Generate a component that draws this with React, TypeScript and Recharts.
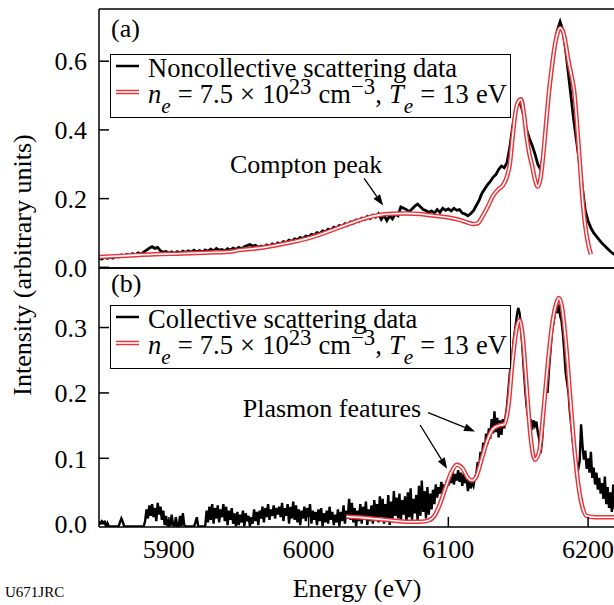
import React from 'react';
import { LineChart, Line, XAxis, YAxis, Legend, ReferenceLine } from 'recharts';

const FONT = "'Liberation Serif', Tinos, 'Times New Roman', 'Nimbus Roman', 'DejaVu Serif', Times, serif";
const RED = '#e8333a';

// Energy grids of the measured spectra (eV)
const DATA_A_START = 5850;
const DATA_A_STEP = 2;
const DATA_B_START = 5850;
const DATA_B_STEP = 1;

// (a) Noncollective scattering data (every 2 eV from 5850 eV)
const noncollectiveValues = [
  0.028, 0.024, 0.030, 0.026, 0.031, 0.027, 0.033, 0.030, 0.036, 0.032,
  0.038, 0.034, 0.040, 0.036, 0.042, 0.038, 0.044, 0.050, 0.056, 0.060,
  0.055, 0.058, 0.048, 0.044, 0.046, 0.041, 0.045, 0.040, 0.046, 0.042,
  0.047, 0.043, 0.048, 0.044, 0.050, 0.045, 0.049, 0.044, 0.051, 0.047,
  0.053, 0.048, 0.055, 0.050, 0.052, 0.047, 0.054, 0.050, 0.056, 0.052,
  0.058, 0.054, 0.060, 0.063, 0.066, 0.062, 0.064, 0.058, 0.062, 0.059,
  0.065, 0.061, 0.068, 0.064, 0.071, 0.068, 0.075, 0.072, 0.079, 0.076,
  0.083, 0.080, 0.087, 0.084, 0.091, 0.089, 0.096, 0.093, 0.101, 0.098,
  0.106, 0.103, 0.111, 0.108, 0.117, 0.113, 0.122, 0.118, 0.127, 0.123,
  0.132, 0.128, 0.138, 0.134, 0.143, 0.139, 0.148, 0.142, 0.152, 0.146,
  0.156, 0.140, 0.152, 0.136, 0.150, 0.141, 0.155, 0.150, 0.176, 0.172,
  0.168, 0.162, 0.170, 0.178, 0.184, 0.176, 0.168, 0.165, 0.160, 0.164,
  0.158, 0.168, 0.160, 0.172, 0.166, 0.170, 0.164, 0.172, 0.166, 0.168,
  0.158, 0.155, 0.150, 0.156, 0.165, 0.180, 0.195, 0.215, 0.228, 0.240,
  0.250, 0.262, 0.270, 0.285, 0.295, 0.290, 0.305, 0.350, 0.410, 0.455,
  0.478, 0.472, 0.440, 0.400, 0.375, 0.355, 0.330, 0.300, 0.285, 0.330,
  0.420, 0.500, 0.570, 0.640, 0.690, 0.715, 0.690, 0.630, 0.560, 0.490,
  0.420, 0.360, 0.300, 0.230, 0.165, 0.135, 0.115, 0.100, 0.090, 0.080,
  0.070, 0.062, 0.054, 0.046, 0.040, 0.035, 0.031,
];

// (a) Model fit
const modelAEnergy = [
  5850, 5870, 5890, 5910, 5930, 5945, 5950, 5960, 5975, 5990,
  6000, 6010, 6020, 6030, 6040, 6050, 6060, 6070, 6080, 6090,
  6100, 6108, 6114, 6118, 6121, 6124, 6128, 6132, 6136, 6139,
  6142, 6144, 6146, 6148, 6150, 6152, 6154, 6156, 6158, 6160,
  6162, 6164, 6166, 6168, 6170, 6172, 6174, 6176, 6178, 6180,
  6182, 6184, 6186, 6188, 6190, 6192, 6194, 6196, 6198, 6200,
  6202,
];
const modelAValue = [
  0.030, 0.034, 0.038, 0.040, 0.043, 0.046, 0.050, 0.054, 0.063, 0.075,
  0.085, 0.098, 0.113, 0.128, 0.142, 0.152, 0.156, 0.157, 0.155, 0.150,
  0.145, 0.138, 0.130, 0.126, 0.128, 0.145, 0.175, 0.208, 0.228, 0.238,
  0.265, 0.300, 0.380, 0.450, 0.482, 0.489, 0.450, 0.380, 0.330, 0.295,
  0.255, 0.235, 0.260, 0.330, 0.420, 0.510, 0.580, 0.640, 0.680, 0.697,
  0.688, 0.650, 0.600, 0.560, 0.515, 0.420, 0.310, 0.200, 0.120, 0.070,
  0.038,
];

// (b) Collective scattering data (every 1 eV from 5850 eV)
const collectiveValues = [
  0.003, 0.001, 0.004, 0.002, 0.003, -0.004, 0.001, -0.004, -0.004, -0.004,
  -0.004, -0.004, -0.004, -0.004, -0.004, 0.002, 0.008, 0.003, -0.004, -0.004,
  -0.004, -0.004, -0.004, -0.004, -0.004, -0.004, -0.004, -0.004, -0.004, -0.004,
  -0.004, -0.004, -0.004, 0.004, 0.022, 0.008, 0.028, 0.012, 0.030, 0.010,
  0.024, 0.004, 0.032, 0.014, 0.026, 0.006, 0.020, -0.002, 0.012, -0.004,
  0.006, -0.004, 0.014, -0.002, -0.004, 0.010, -0.004, -0.004, 0.012, -0.004,
  0.016, -0.002, -0.004, -0.004, -0.004, -0.004, -0.004, -0.004, -0.004, 0.002,
  0.010, -0.004, -0.004, -0.004, -0.004, -0.004, -0.004, 0.020, 0.002, 0.026,
  0.006, 0.030, 0.000, 0.024, 0.008, 0.028, 0.002, 0.022, 0.010, 0.030,
  0.004, 0.026, -0.002, 0.020, 0.006, 0.024, 0.000, 0.016, -0.004, 0.018,
  -0.002, 0.014, 0.002, 0.020, -0.004, 0.016, 0.004, 0.012, -0.004, 0.010,
  0.000, 0.022, 0.004, 0.018, -0.002, 0.020, 0.008, 0.026, 0.002, 0.024,
  0.010, 0.030, 0.006, 0.022, 0.012, 0.028, 0.008, 0.024, 0.014, 0.026,
  0.010, 0.032, 0.004, 0.024, 0.012, 0.030, 0.000, 0.026, 0.008, 0.034,
  0.006, 0.028, 0.002, 0.022, -0.002, 0.020, 0.008, 0.026, 0.004, 0.024,
  0.010, 0.030, 0.000, 0.020, 0.006, 0.018, -0.002, 0.022, 0.004, 0.024,
  -0.004, 0.016, 0.002, 0.020, 0.000, 0.026, 0.006, 0.018, -0.002, 0.014,
  0.002, 0.022, -0.004, 0.018, 0.004, 0.028, 0.000, 0.020, 0.008, 0.038,
  0.006, 0.032, 0.002, 0.024, -0.004, 0.020, 0.004, 0.030, 0.000, 0.026,
  0.006, 0.034, -0.002, 0.022, 0.004, 0.028, 0.000, 0.036, 0.008, 0.030,
  0.002, 0.042, 0.010, 0.038, 0.000, 0.030, 0.006, 0.044, -0.002, 0.034,
  0.004, 0.050, 0.012, 0.040, 0.008, 0.046, 0.002, 0.036, 0.014, 0.042,
  0.000, 0.048, 0.010, 0.054, 0.006, 0.038, 0.016, 0.044, 0.004, 0.058,
  0.012, 0.066, 0.018, 0.050, 0.008, 0.056, 0.014, 0.046, 0.022, 0.052,
  0.030, 0.060, 0.040, 0.056, 0.046, 0.064, 0.044, 0.060, 0.052, 0.066,
  0.058, 0.074, 0.062, 0.080, 0.060, 0.076, 0.066, 0.082, 0.064, 0.078,
  0.058, 0.076, 0.062, 0.072, 0.050, 0.066, 0.054, 0.064, 0.058, 0.070,
  0.076, 0.094, 0.086, 0.110, 0.100, 0.124, 0.108, 0.138, 0.122, 0.146,
  0.130, 0.160, 0.138, 0.172, 0.140, 0.162, 0.132, 0.158, 0.136, 0.160,
  0.146, 0.164, 0.180, 0.205, 0.230, 0.250, 0.262, 0.285, 0.300, 0.318,
  0.330, 0.322, 0.300, 0.270, 0.235, 0.205, 0.180, 0.165, 0.152, 0.160,
  0.144, 0.158, 0.150, 0.156, 0.140, 0.130, 0.108, 0.125, 0.160, 0.190,
  0.215, 0.200, 0.235, 0.262, 0.290, 0.305, 0.318, 0.330, 0.322, 0.335,
  0.318, 0.310, 0.290, 0.262, 0.230, 0.215, 0.200, 0.170, 0.150, 0.128,
  0.112, 0.100, 0.090, 0.084, 0.096, 0.152, 0.120, 0.098, 0.112, 0.084,
  0.100, 0.078, 0.110, 0.070, 0.086, 0.060, 0.078, 0.052, 0.070, 0.046,
  0.062, 0.038, 0.072, 0.030, 0.056, 0.024, 0.048, 0.018, 0.060, 0.022,
  0.044, 0.016, 0.036,
];

// (b) Model fit
const modelBEnergy = [
  6027, 6040, 6050, 6060, 6070, 6080, 6086, 6090, 6094, 6098,
  6102, 6106, 6110, 6114, 6117, 6120, 6124, 6128, 6132, 6136,
  6140, 6143, 6146, 6149, 6151, 6153, 6156, 6159, 6162, 6165,
  6168, 6171, 6174, 6177, 6179, 6181, 6184, 6187, 6190, 6193,
  6196, 6199, 6205, 6230,
];
const modelBValue = [
  0.011, 0.009, 0.007, 0.005, 0.003, 0.003, 0.005, 0.012, 0.030, 0.055,
  0.078, 0.090, 0.085, 0.070, 0.066, 0.072, 0.100, 0.128, 0.145, 0.150,
  0.152, 0.180, 0.250, 0.300, 0.311, 0.290, 0.210, 0.130, 0.098, 0.110,
  0.170, 0.240, 0.300, 0.335, 0.345, 0.335, 0.280, 0.200, 0.120, 0.060,
  0.025, 0.012, 0.010, 0.010,
];

const xDomain: [number, number] = [5850, 6230];
const xTicks = [5900, 6000, 6100, 6200];
const yDomainA: [number, number] = [-0.002, 0.752];
const yTicksA = [0, 0.2, 0.4, 0.6];
const yDomainB: [number, number] = [-0.005, 0.391];
const yTicksB = [0, 0.1, 0.2, 0.3];

const gridSeries = (start: number, step: number, vals: number[]) =>
  vals.map((v, i) => ({ e: start + step * i, v }));
const zip = (es: number[], vs: number[]) => es.map((e, i) => ({ e, v: vs[i] }));

const dataA = gridSeries(DATA_A_START, DATA_A_STEP, noncollectiveValues);
const fitA = zip(modelAEnergy, modelAValue);
const dataB = gridSeries(DATA_B_START, DATA_B_STEP, collectiveValues);
const fitB = zip(modelBEnergy, modelBValue);

const axisLineStyle = { stroke: '#000', strokeWidth: 1.5 };
const tickStyle = { fontFamily: FONT, fontSize: 26, fill: '#000' };

const Sub = ({ children }: { children: React.ReactNode }) => (
  <span style={{ fontSize: '0.8em', fontStyle: 'italic', position: 'relative', top: '0.45em' }}>
    {children}
  </span>
);
const Sup = ({ children }: { children: React.ReactNode }) => (
  <span style={{ fontSize: '0.86em', position: 'relative', top: '-0.38em' }}>{children}</span>
);

function LegendBox({ label }: { label: string }) {
  const row: React.CSSProperties = { display: 'flex', alignItems: 'flex-start', height: 26 };
  return (
    <div
      style={{
        border: '1.5px solid #000',
        background: '#fff',
        padding: '0 3px 10px 5px',
        fontFamily: FONT,
        fontSize: 26.5,
        lineHeight: '26px',
        color: '#000',
        whiteSpace: 'nowrap',
      }}
    >
      <div style={row}>
        <svg width={23} height={26} style={{ marginRight: 9, flex: 'none' }}>
          <line x1={0} x2={23} y1={11} y2={11} stroke="#000" strokeWidth={2.5} />
        </svg>
        <span>{label}</span>
      </div>
      <div style={row}>
        <svg width={23} height={26} style={{ marginRight: 9, flex: 'none' }}>
          <line x1={0} x2={23} y1={11} y2={11} stroke={RED} strokeWidth={4.5} />
          <line x1={0} x2={23} y1={11} y2={11} stroke="#fff" strokeWidth={1.6} />
        </svg>
        <span style={{ wordSpacing: '0.5px' }}>
          <i>n</i>
          <Sub>e</Sub> = 7.5 × 10<Sup>23</Sup> cm<Sup>−3</Sup>, <i>T</i>
          <Sub>e</Sub> = 13 eV
        </span>
      </div>
    </div>
  );
}

function makeArrow(label?: string, dx = 0, dy = 0, anchor: 'start' | 'middle' | 'end' = 'middle') {
  return (p: any) => {
    const { x1, y1, x2, y2 } = p;
    const ang = Math.atan2(y2 - y1, x2 - x1);
    const L = 11;
    const W = 4;
    const c = Math.cos(ang);
    const s = Math.sin(ang);
    const bx = x2 - L * c;
    const by = y2 - L * s;
    const pts = `${x2},${y2} ${bx - W * s},${by + W * c} ${bx + W * s},${by - W * c}`;
    return (
      <g>
        <line x1={x1} y1={y1} x2={bx} y2={by} stroke="#000" strokeWidth={1.3} />
        <polygon points={pts} fill="#000" />
        {label ? (
          <text x={x1 + dx} y={y1 + dy} textAnchor={anchor} fontFamily={FONT} fontSize={26} fill="#000">
            {label}
          </text>
        ) : null}
      </g>
    );
  };
}

const fmt = (v: number) => v.toFixed(1);

export default function App() {
  const W = 640;
  return (
    <div
      style={{
        position: 'absolute',
        left: 0,
        top: 0,
        width: 614,
        height: 605,
        overflow: 'hidden',
        background: '#fff',
        fontFamily: FONT,
      }}
    >
      {/* Panel (b) */}
      <div style={{ position: 'absolute', left: 0, top: 0 }}>
        <LineChart width={W} height={605} margin={{ top: 267, right: 9, bottom: 38, left: 0 }}>
          <XAxis
            xAxisId="b"
            dataKey="e"
            type="number"
            domain={xDomain}
            ticks={xTicks}
            interval={0}
            allowDataOverflow
            orientation="bottom"
            height={40}
            tickSize={-10}
            tickMargin={23}
            tick={tickStyle}
            axisLine={axisLineStyle}
            tickLine={axisLineStyle}
          />
          <XAxis
            xAxisId="t"
            dataKey="e"
            type="number"
            domain={xDomain}
            ticks={xTicks}
            interval={0}
            allowDataOverflow
            orientation="top"
            height={1}
            tickSize={-10}
            tick={false}
            axisLine={axisLineStyle}
            tickLine={axisLineStyle}
          />
          <YAxis
            yAxisId="l"
            type="number"
            domain={yDomainB}
            ticks={yTicksB}
            interval={0}
            allowDataOverflow
            orientation="left"
            width={99}
            tickSize={-10}
            tickMargin={22}
            tick={tickStyle}
            tickFormatter={fmt}
            axisLine={axisLineStyle}
            tickLine={axisLineStyle}
          />
          <YAxis
            yAxisId="r"
            type="number"
            domain={yDomainB}
            ticks={yTicksB}
            interval={0}
            allowDataOverflow
            orientation="right"
            width={1}
            tickSize={-10}
            tick={false}
            axisLine={axisLineStyle}
            tickLine={axisLineStyle}
          />
          <Line xAxisId="b" yAxisId="l" data={dataB} dataKey="v" type="linear" stroke="#000" strokeWidth={2.4} dot={false} activeDot={false} isAnimationActive={false} />
          <Line xAxisId="b" yAxisId="l" data={fitB} dataKey="v" type="monotone" stroke={RED} strokeWidth={4.5} dot={false} activeDot={false} isAnimationActive={false} />
          <Line xAxisId="b" yAxisId="l" data={fitB} dataKey="v" type="monotone" stroke="#fff" strokeWidth={1.6} dot={false} activeDot={false} isAnimationActive={false} />
          <ReferenceLine xAxisId="b" yAxisId="l" segment={[{ x: 6079.8, y: 0.151 }, { x: 6099.1, y: 0.084 }]} shape={makeArrow()} />
          <ReferenceLine xAxisId="b" yAxisId="l" segment={[{ x: 6085.5, y: 0.17 }, { x: 6119.1, y: 0.141 }]} shape={makeArrow('Plasmon features', -7, 4, 'end')} />
          <Legend
            layout="vertical"
            align="center"
            verticalAlign="middle"
            wrapperStyle={{ left: 110, top: 305, width: 'auto' }}
            content={() => <LegendBox label="Collective scattering data" />}
          />
        </LineChart>
      </div>

      {/* Panel (a) */}
      <div style={{ position: 'absolute', left: 0, top: 0 }}>
        <LineChart width={W} height={280} margin={{ top: 8, right: 9, bottom: 11, left: 0 }}>
          <XAxis
            xAxisId="b"
            dataKey="e"
            type="number"
            domain={xDomain}
            ticks={xTicks}
            interval={0}
            allowDataOverflow
            orientation="bottom"
            height={1}
            tickSize={-10}
            tick={false}
            axisLine={axisLineStyle}
            tickLine={axisLineStyle}
          />
          <XAxis
            xAxisId="t"
            dataKey="e"
            type="number"
            domain={xDomain}
            ticks={xTicks}
            interval={0}
            allowDataOverflow
            orientation="top"
            height={1}
            tickSize={-10}
            tick={false}
            axisLine={axisLineStyle}
            tickLine={axisLineStyle}
          />
          <YAxis
            yAxisId="l"
            type="number"
            domain={yDomainA}
            ticks={yTicksA}
            interval={0}
            allowDataOverflow
            orientation="left"
            width={99}
            tickSize={-10}
            tickMargin={22}
            tick={tickStyle}
            tickFormatter={fmt}
            axisLine={axisLineStyle}
            tickLine={axisLineStyle}
          />
          <YAxis
            yAxisId="r"
            type="number"
            domain={yDomainA}
            ticks={yTicksA}
            interval={0}
            allowDataOverflow
            orientation="right"
            width={1}
            tickSize={-10}
            tick={false}
            axisLine={axisLineStyle}
            tickLine={axisLineStyle}
          />
          <Line xAxisId="b" yAxisId="l" data={dataA} dataKey="v" type="linear" stroke="#000" strokeWidth={2.8} dot={false} activeDot={false} isAnimationActive={false} />
          <Line xAxisId="b" yAxisId="l" data={fitA} dataKey="v" type="monotone" stroke={RED} strokeWidth={4.5} dot={false} activeDot={false} isAnimationActive={false} />
          <Line xAxisId="b" yAxisId="l" data={fitA} dataKey="v" type="monotone" stroke="#fff" strokeWidth={1.6} dot={false} activeDot={false} isAnimationActive={false} />
          <ReferenceLine xAxisId="b" yAxisId="l" segment={[{ x: 6039.7, y: 0.259 }, { x: 6053.3, y: 0.18 }]} shape={makeArrow('Compton peak', -58, -5, 'middle')} />
          <Legend
            layout="vertical"
            align="center"
            verticalAlign="middle"
            wrapperStyle={{ left: 110, top: 54, width: 'auto' }}
            content={() => <LegendBox label="Noncollective scattering data" />}
          />
        </LineChart>
      </div>

      {/* Titles */}
      <svg width={614} height={605} style={{ position: 'absolute', left: 0, top: 0, pointerEvents: 'none' }}>
        <text x={111} y={37} fontFamily={FONT} fontSize={26} fill="#000">(a)</text>
        <text x={111} y={292} fontFamily={FONT} fontSize={26} fill="#000">(b)</text>
        <text transform="translate(31,265) rotate(-90)" textAnchor="middle" fontFamily={FONT} fontSize={26} fill="#000">
          Intensity (arbitrary units)
        </text>
        <text x={357} y={597} textAnchor="middle" fontFamily={FONT} fontSize={26} fill="#000">Energy (eV)</text>
        <text x={5} y={597} fontFamily={FONT} fontSize={15} fill="#000">U671JRC</text>
      </svg>
    </div>
  );
}
